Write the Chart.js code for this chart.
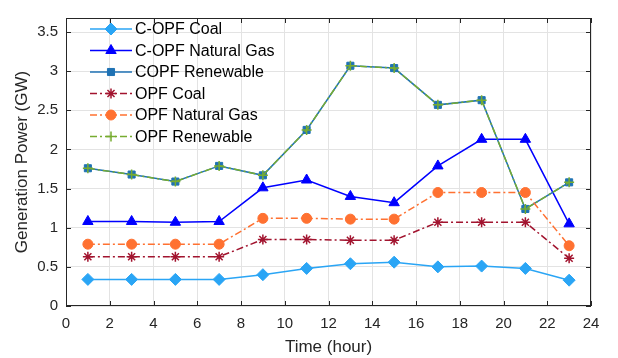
<!DOCTYPE html>
<html><head><meta charset="utf-8">
<script src="https://cdn.jsdelivr.net/npm/chart.js@4.4.1/dist/chart.umd.min.js"></script>
<style>html,body{margin:0;padding:0;background:#fff}#wrap{width:618px;height:358px}</style>
</head><body><div id="wrap"><canvas id="c" width="618" height="358"></canvas></div>
<script>
const hours = [1,3,5,7,9,11,13,15,17,19,21,23];
const copfCoal = [0.34,0.34,0.34,0.34,0.40,0.48,0.54,0.56,0.50,0.51,0.48,0.33];
const copfGas = [1.08,1.08,1.07,1.08,1.51,1.61,1.40,1.32,1.79,2.13,2.13,1.05];
const copfRen = [1.76,1.68,1.59,1.79,1.67,2.25,3.07,3.04,2.57,2.63,1.24,1.58];
const opfCoal = [0.63,0.63,0.63,0.63,0.85,0.85,0.84,0.84,1.07,1.07,1.07,0.61];
const opfGas = [0.79,0.79,0.79,0.79,1.12,1.12,1.11,1.11,1.45,1.45,1.45,0.77];
const opfRen = [1.76,1.68,1.59,1.79,1.67,2.25,3.07,3.04,2.57,2.63,1.24,1.58];
const xTicks = [0,2,4,6,8,10,12,14,16,18,20,22,24];
const yTicks = [0,0.5,1,1.5,2,2.5,3,3.5];
const seriesNames = ['C-OPF Coal','C-OPF Natural Gas','COPF Renewable','OPF Coal','OPF Natural Gas','OPF Renewable'];

const pts = a => a.map((v,i)=>({x:hours[i],y:v}));
const DD = [7,3,2,3];
const FONT = "'Liberation Sans', Arial, sans-serif";

const datasets = [
 {label:seriesNames[0],data:pts(copfCoal),borderColor:'#2aa5f5',backgroundColor:'#2aa5f5',pointStyle:'rectRot',pointRadius:6,borderWidth:1.5,borderDash:[]},
 {label:seriesNames[1],data:pts(copfGas),borderColor:'#0000ff',backgroundColor:'#0000ff',pointStyle:'triangle',pointRadius:6,borderWidth:1.5,borderDash:[]},
 {label:seriesNames[2],data:pts(copfRen),borderColor:'#1f72b4',backgroundColor:'#1f72b4',pointStyle:'rect',pointRadius:5,borderWidth:1.5,borderDash:[]},
 {label:seriesNames[3],data:pts(opfCoal),borderColor:'#a2142f',backgroundColor:'#a2142f',pointStyle:'star',pointRadius:5,borderWidth:1.5,pointBorderWidth:1.5,borderDash:DD},
 {label:seriesNames[4],data:pts(opfGas),borderColor:'#ff7131',backgroundColor:'#ff7131',pointStyle:'circle',pointRadius:5,borderWidth:1.5,borderDash:DD},
 {label:seriesNames[5],data:pts(opfRen),borderColor:'#77ac30',backgroundColor:'#77ac30',pointStyle:'cross',pointRadius:5,borderWidth:1.5,pointBorderWidth:1.5,borderDash:DD}
];
datasets.forEach((d,i)=>{d.order=-i;d.fill=false;d.tension=0;d.pointHoverRadius=d.pointRadius;d.pointBackgroundColor=d.backgroundColor;d.pointBorderColor=d.borderColor;if(!d.pointBorderWidth)d.pointBorderWidth=1;});

const boxPlugin = {
 id:'box',
 afterDraw(chart){
  const {ctx,chartArea:a} = chart;
  ctx.save();
  ctx.strokeStyle='#262626';ctx.lineWidth=1;
  ctx.strokeRect(a.left+0.5,a.top+0.5,a.right-a.left-1,a.bottom-a.top-1);
  const xs=chart.scales.x, ys=chart.scales.y;
  ctx.beginPath();
  xTicks.forEach(t=>{const px=Math.round(xs.getPixelForValue(t))+0.5;ctx.moveTo(px,a.bottom);ctx.lineTo(px,a.bottom-5);ctx.moveTo(px,a.top);ctx.lineTo(px,a.top+5);});
  yTicks.forEach(t=>{const py=Math.round(ys.getPixelForValue(t))+0.5;ctx.moveTo(a.left,py);ctx.lineTo(a.left+5,py);ctx.moveTo(a.right,py);ctx.lineTo(a.right-5,py);});
  ctx.stroke();
  ctx.font='16px '+FONT;ctx.textBaseline='middle';ctx.fillStyle='#000';
  const x0=90,x1=132,yStart=29,dy=21.5;
  chart.data.datasets.forEach((d,i)=>{
    const y=yStart+i*dy;
    ctx.save();
    ctx.strokeStyle=d.borderColor;ctx.lineWidth=1.5;ctx.setLineDash(d.borderDash||[]);
    ctx.beginPath();ctx.moveTo(x0,y);ctx.lineTo(x1,y);ctx.stroke();ctx.setLineDash([]);
    ctx.fillStyle=d.backgroundColor;ctx.strokeStyle=d.borderColor;ctx.lineWidth=d.pointBorderWidth;
    Chart.helpers.drawPoint(ctx,{pointStyle:d.pointStyle,radius:d.pointRadius,borderWidth:d.pointBorderWidth,rotation:0},(x0+x1)/2,y);
    ctx.restore();
    ctx.fillStyle='#000';ctx.fillText(d.label,x1+3,y+1);
  });
  ctx.restore();
 }
};

new Chart(document.getElementById('c'),{
 type:'line',
 data:{datasets},
 options:{
  responsive:false,animation:false,
  layout:{padding:{top:18,right:27,left:0,bottom:0}},
  plugins:{legend:{display:false},tooltip:{enabled:false}},
  scales:{
   x:{type:'linear',min:0,max:24,
      afterBuildTicks:s=>{s.ticks=xTicks.map(v=>({value:v}));},
      afterFit:s=>{s.height=52;},
      grid:{color:'#e3e3e3',drawTicks:false},border:{display:false},
      ticks:{color:'#262626',font:{size:15,family:FONT},padding:9,maxRotation:0},
      title:{display:true,text:'Time (hour)',color:'#262626',font:{size:17,family:FONT},padding:{top:0,bottom:0}}},
   y:{type:'linear',min:0,max:3.68,
      afterBuildTicks:s=>{s.ticks=yTicks.map(v=>({value:v}));},
      afterFit:s=>{s.width=66;},
      grid:{color:'#e3e3e3',drawTicks:false},border:{display:false},
      ticks:{color:'#262626',font:{size:15,family:FONT},padding:8,callback:v=>String(v)},
      title:{display:true,text:'Generation Power (GW)',color:'#262626',font:{size:17,family:FONT},padding:{top:12,bottom:0}}}
  }
 },
 plugins:[boxPlugin]
});
</script></body></html>
